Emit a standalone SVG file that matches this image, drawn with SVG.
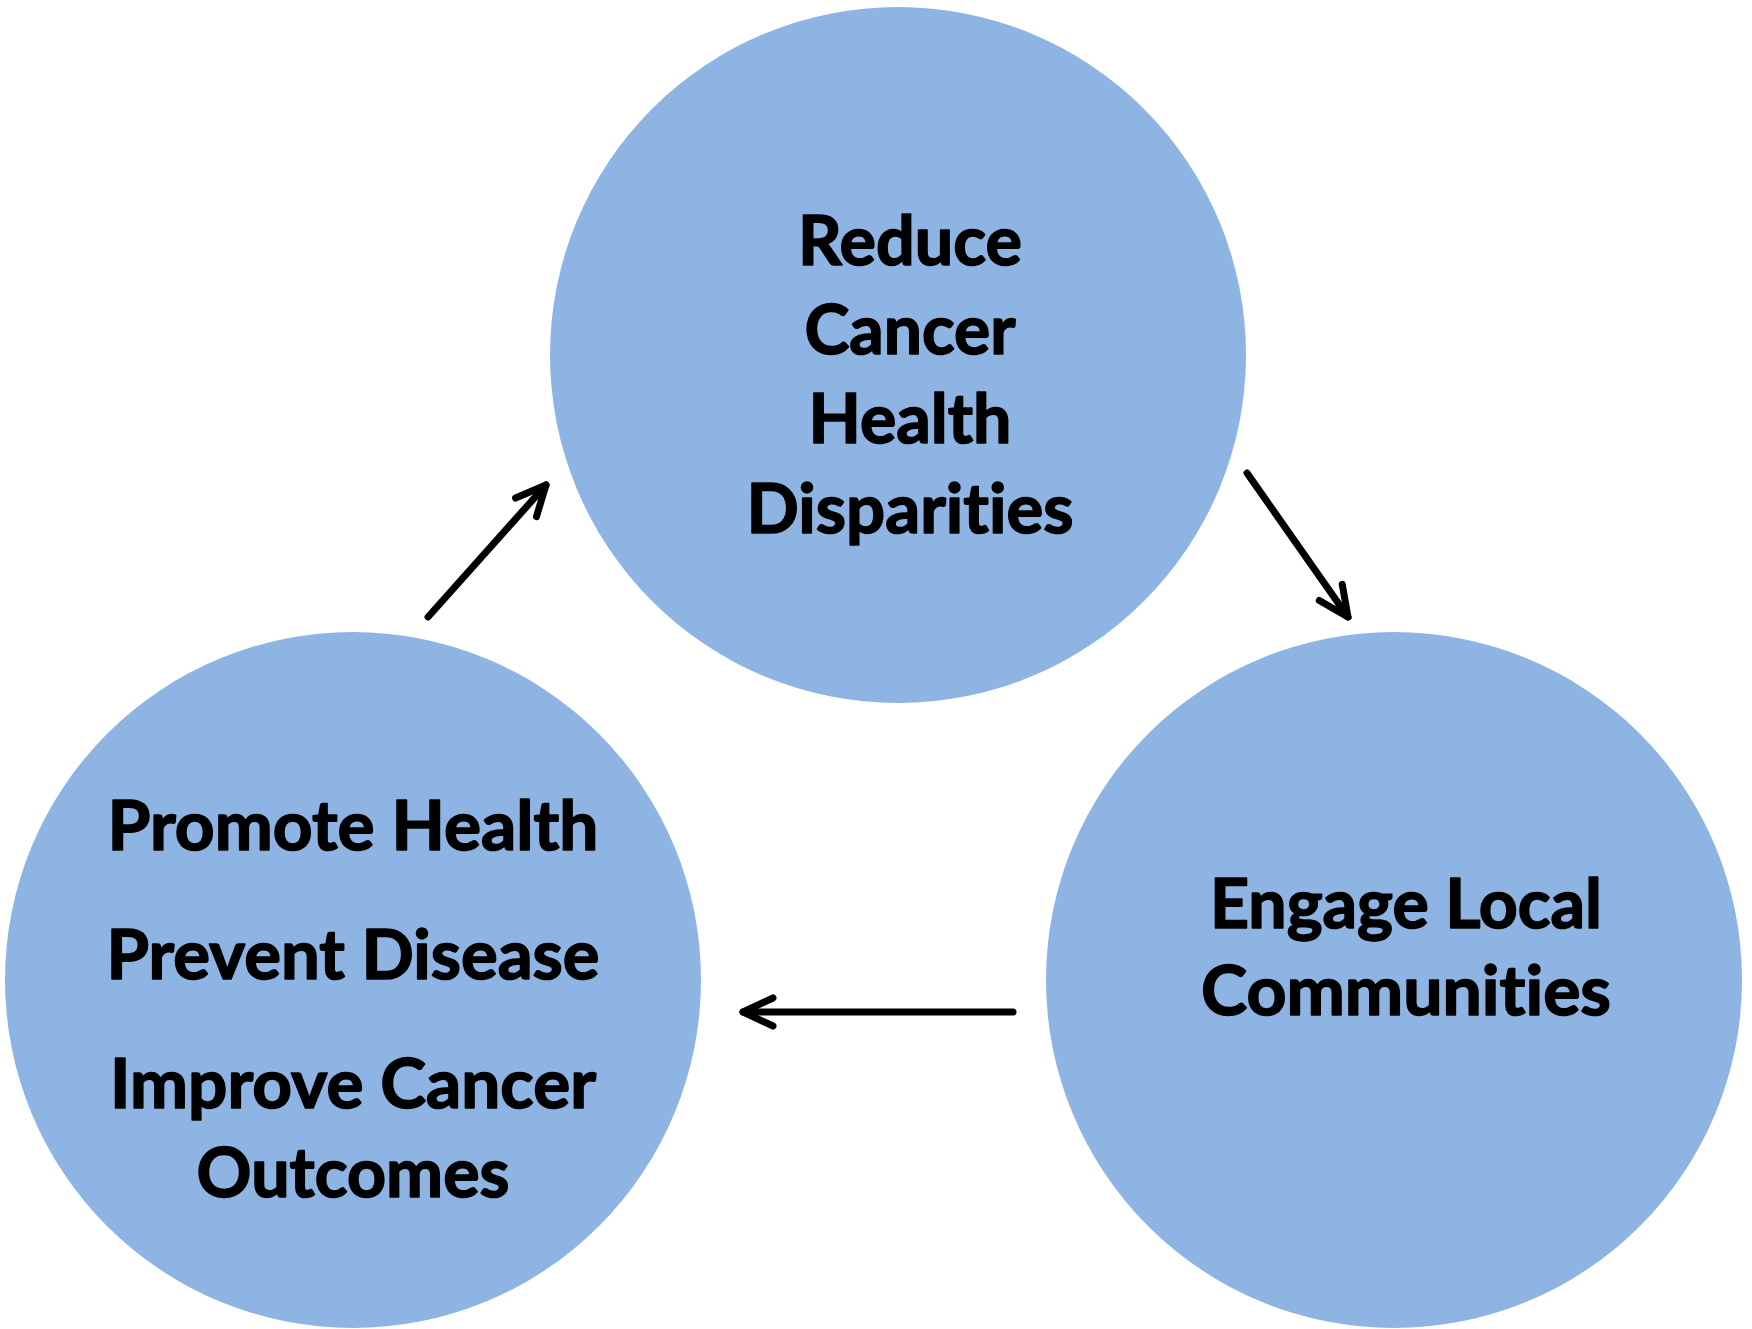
<svg xmlns="http://www.w3.org/2000/svg" width="1752" height="1329" viewBox="0 0 1752 1329">
<style>
.node{fill:#8EB4E3}
.lbl{font-family:Lato,"Open Sans","Liberation Sans",sans-serif;font-weight:700;font-size:68px;fill:#000;stroke:#000;stroke-width:1.6;stroke-linejoin:round;text-anchor:middle;font-variant-ligatures:none;font-feature-settings:"liga" 0,"clig" 0}
.conn{stroke:#000;stroke-width:7;fill:none;stroke-linecap:round;stroke-linejoin:round}
</style>
<defs>
<marker id="arr" markerUnits="userSpaceOnUse" viewBox="-40 -20 50 40" refX="0" refY="0" markerWidth="50" markerHeight="40" orient="auto" overflow="visible">
<path d="M -30 -14 L 0 0 L -30 14" fill="none" stroke="#000" stroke-width="7" stroke-linecap="round" stroke-linejoin="round"/>
</marker>
</defs>
<rect width="1752" height="1329" fill="#fff"/>
<g id="node-reduce">
<circle class="node" cx="898" cy="355" r="348"/>
<text class="lbl" x="910" y="265" textLength="224" lengthAdjust="spacingAndGlyphs">Reduce</text>
<text class="lbl" x="910" y="354" textLength="211" lengthAdjust="spacingAndGlyphs">Cancer</text>
<text class="lbl" x="910" y="443" textLength="203" lengthAdjust="spacingAndGlyphs">Health</text>
<text class="lbl" x="910" y="533" textLength="327" lengthAdjust="spacingAndGlyphs">Disparities</text>
</g>
<g id="node-promote">
<circle class="node" cx="353" cy="980" r="348"/>
<text class="lbl" x="353" y="850" textLength="491" lengthAdjust="spacingAndGlyphs">Promote Health</text>
<text class="lbl" x="353" y="979" textLength="493" lengthAdjust="spacingAndGlyphs">Prevent Disease</text>
<text class="lbl" x="353" y="1108" textLength="486" lengthAdjust="spacingAndGlyphs">Improve Cancer</text>
<text class="lbl" x="353" y="1197" textLength="313" lengthAdjust="spacingAndGlyphs">Outcomes</text>
</g>
<g id="node-engage">
<circle class="node" cx="1394" cy="980" r="348"/>
<text class="lbl" x="1406" y="928" textLength="392" lengthAdjust="spacingAndGlyphs">Engage Local</text>
<text class="lbl" x="1406" y="1015" textLength="410" lengthAdjust="spacingAndGlyphs">Communities</text>
</g>
<g id="connectors">
<line class="conn" x1="428" y1="617" x2="546" y2="485" marker-end="url(#arr)"/>
<line class="conn" x1="1247" y1="473" x2="1348" y2="617" marker-end="url(#arr)"/>
<line class="conn" x1="1013" y1="1012" x2="743" y2="1012" marker-end="url(#arr)"/>
</g>
</svg>
